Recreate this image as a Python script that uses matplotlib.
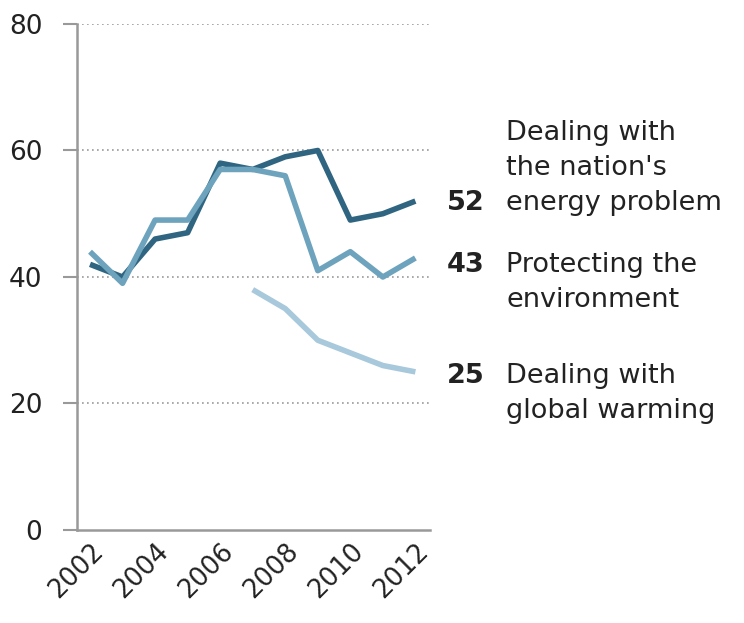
"""
Priorities over time: energy, environment, global warming
"""
import matplotlib
matplotlib.use('Agg')
import matplotlib.pyplot as plt

plt.rcParams['font.family'] = ['DejaVu Sans']

years = [2002, 2003, 2004, 2005, 2006, 2007, 2008, 2009, 2010, 2011, 2012]
energy = [42, 40, 46, 47, 58, 57, 59, 60, 49, 50, 52]
environment = [44, 39, 49, 49, 57, 57, 56, 41, 44, 40, 43]
warming_years = [2007, 2008, 2009, 2010, 2011, 2012]
warming = [38, 35, 30, 28, 26, 25]

labels = [["Dealing with", "the nation's", "energy problem"],
          ["Protecting the", "environment"],
          ["Dealing with", "global warming"]]
last_vals = [energy[-1], environment[-1], warming[-1]]
tick_years = [2002, 2004, 2006, 2008, 2010, 2012]

c_dark = '#2f6580'
c_mid = '#6ea3bd'
c_light = '#a8c8dc'
txt = '#222222'

fig = plt.figure(figsize=(7.44, 6.23), dpi=100)
ax = fig.add_axes([0.1035, 0.1493, 0.4745, 0.8122])

ax.plot(warming_years, warming, color=c_light, lw=4, solid_capstyle='butt')
ax.plot(years, energy, color=c_dark, lw=4, solid_capstyle='butt')
ax.plot(years, environment, color=c_mid, lw=4, solid_capstyle='butt')

ax.set_xlim(2001.6, 2012.45)
ax.set_ylim(0, 80)
ax.set_yticks([0, 20, 40, 60, 80])
ax.set_xticks(tick_years)
ax.set_xticklabels([str(y) for y in tick_years], rotation=45, ha='right',
                   rotation_mode='anchor', fontsize=18.5, color=txt)
ax.tick_params(axis='y', labelsize=19, colors=txt, length=10, width=1.5,
               color='#999999', pad=15)
ax.tick_params(axis='x', length=0, pad=6)

for y in [20, 40, 60, 80]:
    ax.axhline(y, color='#999999', lw=1.2, ls=(0, (1, 2)), zorder=0)

for s in ['top', 'right']:
    ax.spines[s].set_visible(False)
for s in ['left', 'bottom']:
    ax.spines[s].set_color('#999999')
    ax.spines[s].set_linewidth(1.8)

# right-hand labels: value aligned with one line of its block
num_y = [52.2, 42.4, 24.8]
first_line_y = [63.2, 42.4, 24.8]
line_step = 5.53
for v, ny, fy, lines in zip(last_vals, num_y, first_line_y, labels):
    ax.annotate(str(v), xy=(2012.45, ny), xytext=(12, 0), textcoords='offset points',
                ha='left', va='center_baseline', fontsize=19.5, fontweight='bold',
                color=txt, annotation_clip=False)
    for i, line in enumerate(lines):
        ax.annotate(line, xy=(2012.45, fy - i * line_step), xytext=(55, 0),
                    textcoords='offset points', ha='left', va='center_baseline',
                    fontsize=19.5, color=txt, annotation_clip=False)

fig.savefig('out.png', dpi=100)
